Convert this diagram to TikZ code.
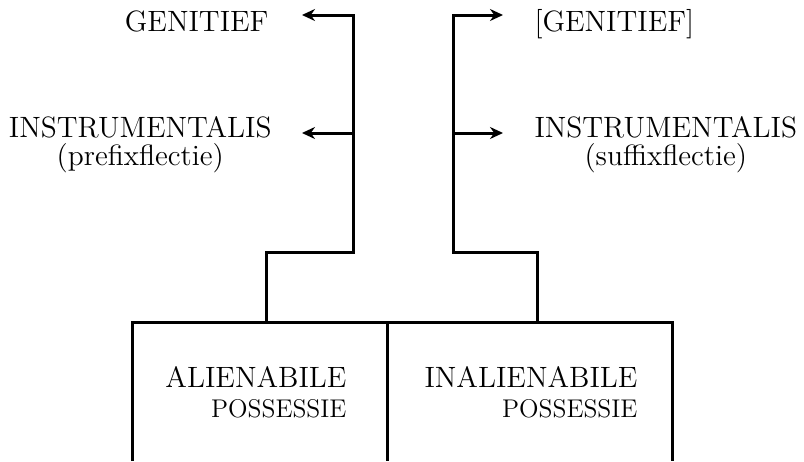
\documentclass[tikz,border=0pt]{standalone}
\usepackage{tikz}
\usetikzlibrary{arrows.meta,positioning}

\begin{document}
\begin{tikzpicture}[x=0.5pt, y=-0.5pt, line width=1.5pt]
    \tikzstyle{case} = [inner sep=0pt, font=\fontsize{14.7}{16}\selectfont]
    \tikzstyle{sub} = [inner sep=0pt, font=\fontsize{12.8}{14}\selectfont]
    \tikzstyle{cell} = [rectangle, inner sep=0pt, outer sep=0pt, minimum height=69.5pt, anchor=north west]
    \tikzstyle{arrow} = [-{Stealth[length=6.5pt,width=6pt]}]
    \useasboundingbox (0,0) rectangle (804,461);

    % Branch points
    \coordinate (ltop) at (353,15);
    \coordinate (lmid) at (353,133);
    \coordinate (lbot) at (353,252);
    \coordinate (rtop) at (453,15);
    \coordinate (rmid) at (453,133);
    \coordinate (rbot) at (453,252);
    \coordinate (lgen) at (302,15);
    \coordinate (linst) at (302,133);
    \coordinate (rgen) at (503,15);
    \coordinate (rinst) at (503,133);

    % Left cases
    \node[case, anchor=base east] (genL) at (270,31) {GENITIEF};
    \node[case, anchor=base east] (instrL) at (273,137) {INSTRUMENTALIS};
    \node[case, anchor=base] (prefL) at ([yshift=-14pt]instrL.base) {(prefixflectie)};

    % Right cases
    \node[case, anchor=base west] (genR) at (533,31) {[GENITIEF]};
    \node[case, anchor=base west] (instrR) at (533,137) {INSTRUMENTALIS};
    \node[case, anchor=base] (sufR) at ([yshift=-14pt]instrR.base) {(suffixflectie)};

    % Possession cells
    \node[cell, minimum width=127.5pt] (alien) at (132,322) {};
    \node[cell, minimum width=142.5pt] (inalien) at (alien.north east) {};
    \coordinate (lfoot) at (266,322);
    \coordinate (rfoot) at (537,322);

    \node[case, anchor=base east] (alienT) at (348,387) {ALIENABILE};
    \node[sub, anchor=base east] (alienP) at (348,417) {POSSESSIE};
    \node[case, anchor=base east] (inalienT) at (639,387) {INALIENABILE};
    \node[sub, anchor=base east] (inalienP) at (639,417) {POSSESSIE};

    % Box
    \draw (alien.south west) -- (alien.north west) -- (inalien.north east) -- (inalien.south east);
    \draw (alien.north east) -- (alien.south east);

    % Arrows
    \draw[arrow] (lfoot) |- (lbot) -- (ltop) -- (lgen);
    \draw[arrow] (lmid) -- (linst);
    \draw[arrow] (rfoot) |- (rbot) -- (rtop) -- (rgen);
    \draw[arrow] (rmid) -- (rinst);
\end{tikzpicture}
\end{document}
